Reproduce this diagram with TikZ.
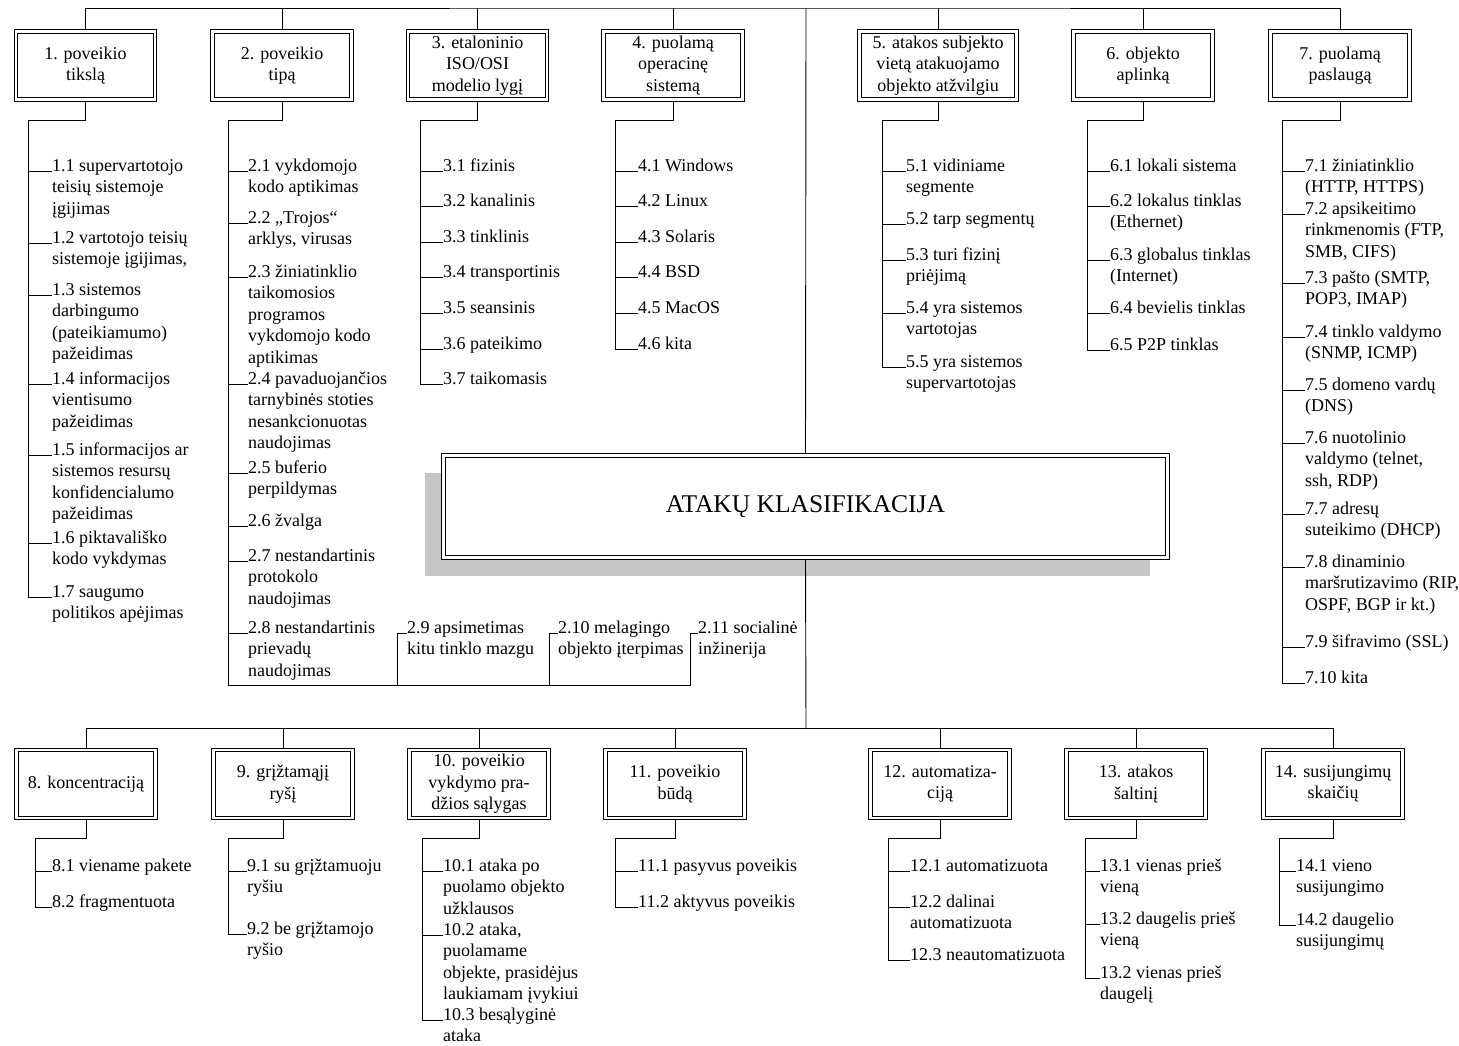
\documentclass[tikz,border=0pt]{standalone}
\usepackage{fontspec}
\setmainfont{Liberation Serif}
\usetikzlibrary{backgrounds}
\definecolor{shadowgray}{HTML}{C6C6C6}
% one list entry: name, x, baseline y of first line, text
\newcommand\citem[4]{\node[item] (#1) at (#2,{#3-15.05}) {\strut#4};}
% short branch from a spine coordinate to the first line of an entry
\newcommand\brtick[2]{\draw[wire] ([yshift=-15.05pt]#2.north west) -- ([yshift=-15.05pt]#2.north west -| #1);}
\begin{document}
\begin{tikzpicture}[x=1pt,y=-1pt,
  every node/.style={inner sep=0pt,font=\fontsize{18}{21.5}\selectfont},
  hbox/.style={draw,line width=0.9pt,double,double distance=2.4pt,fill=white,
    minimum width=139pt,minimum height=68pt,align=center},
  item/.style={anchor=north west,align=left},
  wire/.style={line width=0.9pt}]
\useasboundingbox (0,0) rectangle (1459,1045);

% ---------- category boxes ----------
\node[hbox] (b1) at (85.5,65.5) {1. poveikio\\tikslą};
\node[hbox] (b2) at (282,65.5) {2. poveikio\\tipą};
\node[hbox] (b3) at (477.5,65.5) {3. etaloninio\\ISO/OSI\\modelio lygį};
\node[hbox,minimum width=157pt] (b5) at (938,65.5) {5. atakos subjekto\\vietą atakuojamo\\objekto atžvilgiu};
\node[hbox] (b4) at (673,65.5) {4. puolamą\\operacinę\\sistemą};
\node[hbox] (b6) at (1143,65.5) {6. objekto\\aplinką};
\node[hbox] (b7) at (1340,65.5) {7. puolamą\\paslaugą};

\node[hbox] (b8) at (86,784) {8. koncentraciją};
\node[hbox] (b9) at (283,784) {9. grįžtamąjį\\ryšį};
\node[hbox] (b10) at (479,784) {10. poveikio\\vykdymo pra-\\džios sąlygas};
\node[hbox] (b11) at (675,784) {11. poveikio\\būdą};
\node[hbox] (b12) at (940,784) {12. automatiza-\\ciją};
\node[hbox] (b13) at (1136,784) {13. atakos\\šaltinį};
\node[hbox] (b14) at (1333,784) {14. susijungimų\\skaičių};

% ---------- central box ----------
\node[draw,line width=0.9pt,double,double distance=2.4pt,fill=white,
  minimum width=724pt,minimum height=102pt] (root) at (805.5,506.5)
  {\fontsize{25.5}{30}\selectfont ATAKŲ KLASIFIKACIJA};

% ---------- entries ----------
\citem{i11}{52}{171}{1.1 supervartotojo\\teisių sistemoje\\įgijimas}
\citem{i12}{52}{243}{1.2 vartotojo teisių\\sistemoje įgijimas,}
\citem{i13}{52}{295}{1.3 sistemos\\darbingumo\\(pateikiamumo)\\pažeidimas}
\citem{i14}{52}{384}{1.4 informacijos\\vientisumo\\pažeidimas}
\citem{i15}{52}{455}{1.5 informacijos ar\\sistemos resursų\\konfidencialumo\\pažeidimas}
\citem{i16}{52}{543}{1.6 piktavališko\\kodo vykdymas}
\citem{i17}{52}{597}{1.7 saugumo\\politikos apėjimas}

\citem{i21}{248}{171}{2.1 vykdomojo\\kodo aptikimas}
\citem{i22}{248}{223}{2.2 „Trojos“\\arklys, virusas}
\citem{i23}{248}{277}{2.3 žiniatinklio\\taikomosios\\programos\\vykdomojo kodo\\aptikimas}
\citem{i24}{248}{384}{2.4 pavaduojančios\\tarnybinės stoties\\nesankcionuotas\\naudojimas}
\citem{i25}{248}{473}{2.5 buferio\\perpildymas}
\citem{i26}{248}{526}{2.6 žvalga}
\citem{i27}{248}{561}{2.7 nestandartinis\\protokolo\\naudojimas}
\citem{i28}{248}{633}{2.8 nestandartinis\\prievadų\\naudojimas}
\citem{i29}{407}{633}{2.9 apsimetimas\\kitu tinklo mazgu}
\citem{i210}{558}{633}{2.10 melagingo\\objekto įterpimas}
\citem{i211}{698}{633}{2.11 socialinė\\inžinerija}

\citem{i31}{443}{171}{3.1 fizinis}
\citem{i32}{443}{206}{3.2 kanalinis}
\citem{i33}{443}{242}{3.3 tinklinis}
\citem{i34}{443}{277}{3.4 transportinis}
\citem{i35}{443}{313}{3.5 seansinis}
\citem{i36}{443}{349}{3.6 pateikimo}
\citem{i37}{443}{384}{3.7 taikomasis}

\citem{i41}{638}{171}{4.1 Windows}
\citem{i42}{638}{206}{4.2 Linux}
\citem{i43}{638}{242}{4.3 Solaris}
\citem{i44}{638}{277}{4.4 BSD}
\citem{i45}{638}{313}{4.5 MacOS}
\citem{i46}{638}{349}{4.6 kita}

\citem{i51}{906}{171}{5.1 vidiniame\\segmente}
\citem{i52}{906}{224}{5.2 tarp segmentų}
\citem{i53}{906}{260}{5.3 turi fizinį\\priėjimą}
\citem{i54}{906}{313}{5.4 yra sistemos\\vartotojas}
\citem{i55}{906}{367}{5.5 yra sistemos\\supervartotojas}

\citem{i61}{1110}{171}{6.1 lokali sistema}
\citem{i62}{1110}{206}{6.2 lokalus tinklas\\(Ethernet)}
\citem{i63}{1110}{260}{6.3 globalus tinklas\\(Internet)}
\citem{i64}{1110}{313}{6.4 bevielis tinklas}
\citem{i65}{1110}{350}{6.5 P2P tinklas}

\citem{i71}{1305}{171}{7.1 žiniatinklio\\(HTTP, HTTPS)}
\citem{i72}{1305}{214}{7.2 apsikeitimo\\rinkmenomis (FTP,\\SMB, CIFS)}
\citem{i73}{1305}{283}{7.3 pašto (SMTP,\\POP3, IMAP)}
\citem{i74}{1305}{337}{7.4 tinklo valdymo\\(SNMP, ICMP)}
\citem{i75}{1305}{390}{7.5 domeno vardų\\(DNS)}
\citem{i76}{1305}{443}{7.6 nuotolinio\\valdymo (telnet,\\ssh, RDP)}
\citem{i77}{1305}{514}{7.7 adresų\\suteikimo (DHCP)}
\citem{i78}{1305}{567}{7.8 dinaminio\\maršrutizavimo (RIP,\\OSPF, BGP ir kt.)}
\citem{i79}{1305}{647}{7.9 šifravimo (SSL)}
\citem{i710}{1305}{683}{7.10 kita}

\citem{i81}{52}{871}{8.1 viename pakete}
\citem{i82}{52}{907}{8.2 fragmentuota}

\citem{i91}{247}{871}{9.1 su grįžtamuoju\\ryšiu}
\citem{i92}{247}{934}{9.2 be grįžtamojo\\ryšio}

\citem{i101}{443}{871}{10.1 ataka po\\puolamo objekto\\užklausos}
\citem{i102}{443}{935}{10.2 ataka,\\puolamame\\objekte, prasidėjus\\laukiamam įvykiui}
\citem{i103}{443}{1020}{10.3 besąlyginė\\ataka}

\citem{i111}{638}{871}{11.1 pasyvus poveikis}
\citem{i112}{638}{907}{11.2 aktyvus poveikis}

\citem{i121}{910}{871}{12.1 automatizuota}
\citem{i122}{910}{907}{12.2 dalinai\\automatizuota}
\citem{i123}{910}{960}{12.3 neautomatizuota}

\citem{i131}{1100}{871}{13.1 vienas prieš\\vieną}
\citem{i132}{1100}{924}{13.2 daugelis prieš\\vieną}
\citem{i133}{1100}{978}{13.2 vienas prieš\\daugelį}

\citem{i141}{1296}{871}{14.1 vieno\\susijungimo}
\citem{i142}{1296}{925}{14.2 daugelio\\susijungimų}

% ---------- connectors ----------
\coordinate (top) at (806,8);
\coordinate (bot) at (806,728);
\foreach \k/\sx in {1/28,2/228,3/420,4/615,5/882,6/1087,7/1282}
  {\coordinate (s\k) at (\sx,120);}
\foreach \k/\sx in {8/35,9/228,10/422,11/615,12/888,13/1085,14/1279}
  {\coordinate (s\k) at (\sx,838);}
\coordinate (s2b) at (228,685);
% first-line points of the entries reached by a spine end or a side branch
\foreach \i in {i17,i29,i210,i211,i37,i46,i55,i65,i710,i82,i92,i103,i112,i123,i133,i142}
  {\coordinate (\i-f) at ([yshift=-15.05pt]\i.north west);}

\begin{pgfonlayer}{background}
  \fill[shadowgray] ([shift={(-18,18)}]root.north west) rectangle ([shift={(-18,18)}]root.south east);
  % trunk and the two bus lines
  \draw[wire] (top) -- (root.north);
  \draw[wire] (root.south) -- (bot);
  \draw[wire] (b1.north) |- (top) -| (b7.north);
  \foreach \b in {b2,b3,b4,b5,b6} {\draw[wire] (\b.north) -- (\b.north |- top);}
  \draw[wire] (b8.north) |- (bot) -| (b14.north);
  \foreach \b in {b9,b10,b11,b12,b13} {\draw[wire] (\b.north) -- (\b.north |- bot);}
  % spines
  \draw[wire] (b1.south) |- (s1) -- (s1 |- i17-f);
  \draw[wire] (b2.south) |- (s2) -- (s2b) -| ([xshift=-8pt]i211-f) -- (i211-f);
  \draw[wire] (i29-f) -- ++(-10,0) |- (s2b);
  \draw[wire] (i210-f) -- ++(-9,0) |- (s2b);
  \draw[wire] (b3.south) |- (s3) -- (s3 |- i37-f);
  \draw[wire] (b4.south) |- (s4) -- (s4 |- i46-f);
  \draw[wire] (b5.south) |- (s5) -- (s5 |- i55-f);
  \draw[wire] (b6.south) |- (s6) -- (s6 |- i65-f);
  \draw[wire] (b7.south) |- (s7) -- (s7 |- i710-f);
  \draw[wire] (b8.south) |- (s8) -- (s8 |- i82-f);
  \draw[wire] (b9.south) |- (s9) -- (s9 |- i92-f);
  \draw[wire] (b10.south) |- (s10) -- (s10 |- i103-f);
  \draw[wire] (b11.south) |- (s11) -- (s11 |- i112-f);
  \draw[wire] (b12.south) |- (s12) -- (s12 |- i123-f);
  \draw[wire] (b13.south) |- (s13) -- (s13 |- i133-f);
  \draw[wire] (b14.south) |- (s14) -- (s14 |- i142-f);
  % branches to the entries
  \foreach \i in {i11,i12,i13,i14,i15,i16,i17} {\brtick{s1}{\i}}
  \foreach \i in {i21,i22,i23,i24,i25,i26,i27,i28} {\brtick{s2}{\i}}
  \foreach \i in {i31,i32,i33,i34,i35,i36,i37} {\brtick{s3}{\i}}
  \foreach \i in {i41,i42,i43,i44,i45,i46} {\brtick{s4}{\i}}
  \foreach \i in {i51,i52,i53,i54,i55} {\brtick{s5}{\i}}
  \foreach \i in {i61,i62,i63,i64,i65} {\brtick{s6}{\i}}
  \foreach \i in {i71,i72,i73,i74,i75,i76,i77,i78,i79,i710} {\brtick{s7}{\i}}
  \foreach \i in {i81,i82} {\brtick{s8}{\i}}
  \foreach \i in {i91,i92} {\brtick{s9}{\i}}
  \foreach \i in {i101,i102,i103} {\brtick{s10}{\i}}
  \foreach \i in {i111,i112} {\brtick{s11}{\i}}
  \foreach \i in {i121,i122,i123} {\brtick{s12}{\i}}
  \foreach \i in {i131,i132,i133} {\brtick{s13}{\i}}
  \foreach \i in {i141,i142} {\brtick{s14}{\i}}
\end{pgfonlayer}
\end{tikzpicture}
\end{document}
